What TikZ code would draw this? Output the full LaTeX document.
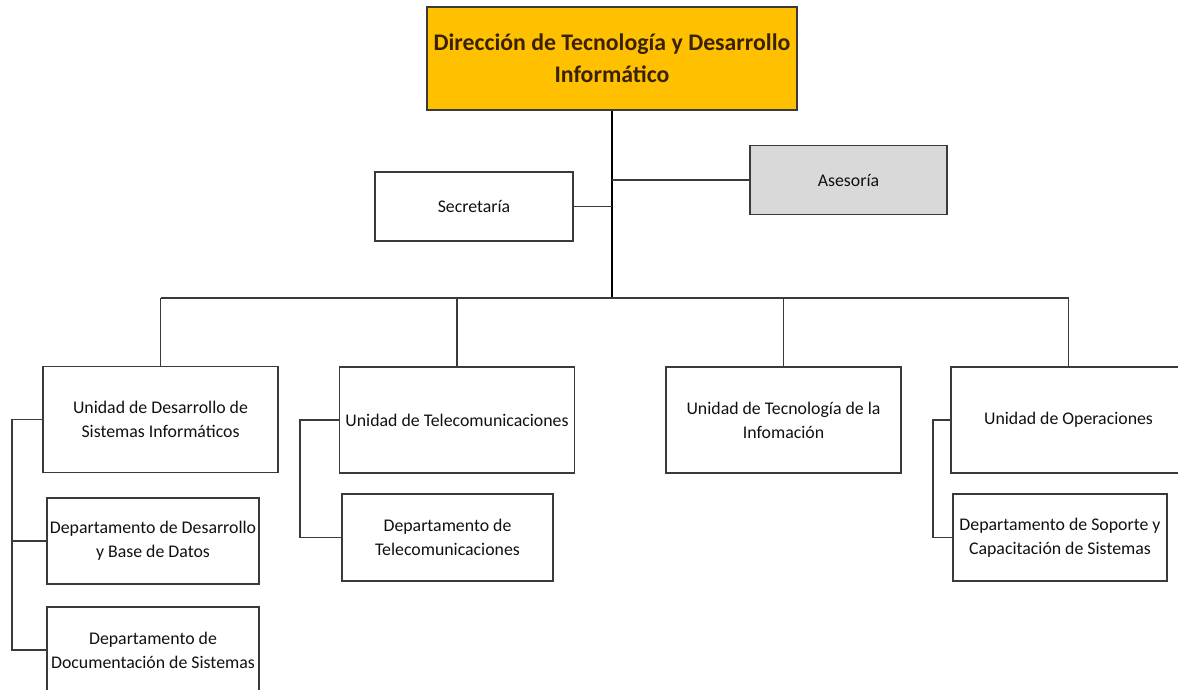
\documentclass[tikz,border=0pt]{standalone}
\usepackage{fontspec}
\setmainfont{Carlito}
\usepackage{tikz}
\usetikzlibrary{positioning,calc}
\definecolor{gold}{HTML}{FFC000}
\definecolor{shade}{HTML}{D9D9D9}
\definecolor{edge}{HTML}{3A3A3A}
\definecolor{ink}{HTML}{111111}
\definecolor{brownink}{HTML}{3A2200}
\tikzset{
  box/.style={draw=edge, fill=white, line width=1.3pt, align=center, inner sep=1pt,
    font=\fontsize{17.8}{24}\selectfont\color{ink}},
  unitbox/.style={box, minimum width=235pt, minimum height=106pt},
  deptbox/.style={box, minimum width=212pt, minimum height=87pt},
  headbox/.style={box, fill=gold, minimum width=370pt, minimum height=103pt,
    font=\fontsize{23.8}{32}\selectfont\bfseries\color{brownink}},
  staffbox/.style={box, minimum width=198pt, minimum height=69pt},
  link/.style={draw=edge, line width=1.3pt},
  trunk/.style={draw=black, line width=2.8pt},
}

\begin{document}
\begin{tikzpicture}[x=1pt, y=-1pt]
    \useasboundingbox (0,0) rectangle (1178,690);
    \node[headbox] (dir) at (612,58.5) {Dirección de Tecnología y Desarrollo\\Informático};
    \node[staffbox] (sec) at (474,206.5) {Secretaría};
    \node[staffbox, fill=shade, minimum width=197pt] (ase) at (848.5,180) {Asesoría};
    \coordinate (bus) at (612,298);
    % unidades
    \node[unitbox] (uds) at (160.5,419.5) {Unidad de Desarrollo de\\Sistemas Informáticos};
    \node[unitbox] (utel) at (457,420) {Unidad de Telecomunicaciones};
    \node[unitbox] (uti) at (783.5,420) {Unidad de Tecnología de la\\Infomación};
    \node[unitbox] (uop) at (1068.5,420) {Unidad de Operaciones};
    % departamentos
    \node[deptbox, minimum height=86pt] (dds) at (153,541) {Departamento de Desarrollo\\y Base de Datos};
    \node[deptbox, minimum height=86pt] (ddoc) at (153,650) {Departamento de\\Documentación de Sistemas};
    \node[deptbox, minimum width=211pt] (dtel) at (447.5,537.5) {Departamento de\\Telecomunicaciones};
    \node[deptbox, minimum width=214pt] (dsop) at (1060,537.5) {Departamento de Soporte y\\Capacitación de Sistemas};
    \draw[trunk] (dir.south) -- (bus);
    \draw[link] (sec.east) -- (sec.east -| dir.south);
    \draw[link] (ase.west) -- (ase.west -| dir.south);
    \draw[link] (uds.north |- bus) -- (uop.north |- bus);
    \foreach \u in {uds,utel,uti,uop}
      \draw[link] (\u.north) -- (\u.north |- bus);
    % brackets
    \coordinate (lb) at (12,0);
    \coordinate (tb) at (300,0);
    \coordinate (ob) at (933,0);
    \draw[link] (uds.west) -- (uds.west -| lb) |- (ddoc.west);
    \draw[link] (dds.west) -- (dds.west -| lb);
    \draw[link] (utel.west) -- (utel.west -| tb) |- (dtel.west);
    \draw[link] (uop.west) -- (uop.west -| ob) |- (dsop.west);
\end{tikzpicture}
\end{document}
